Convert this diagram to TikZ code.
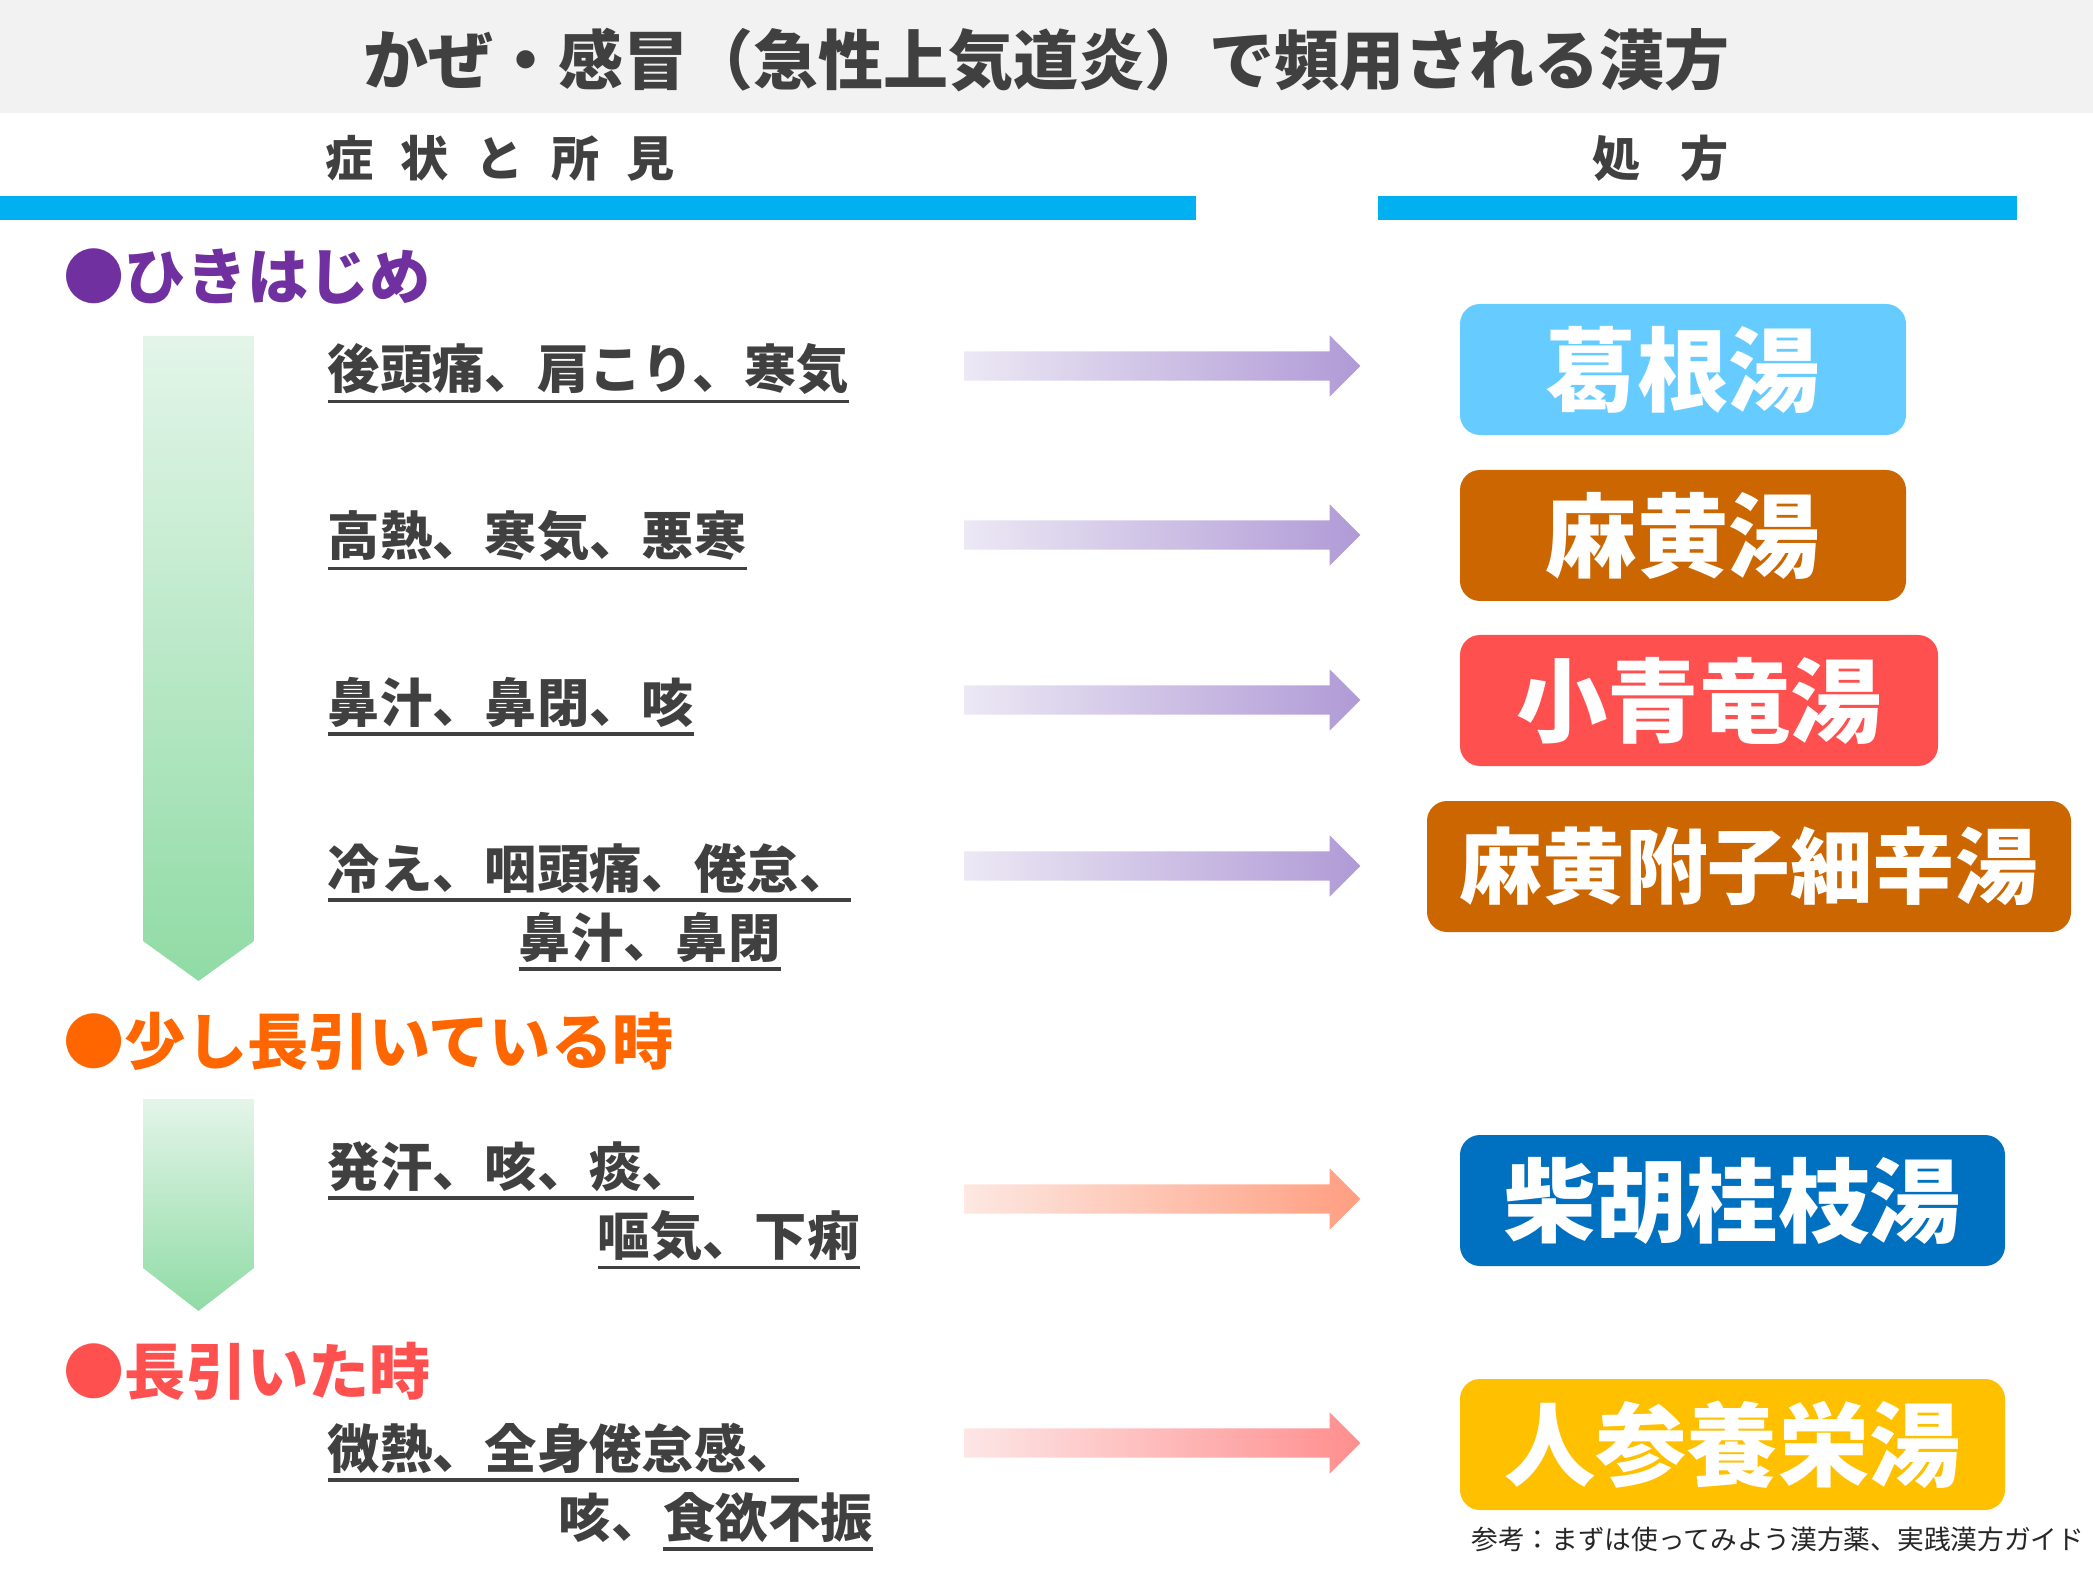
\documentclass[tikz,border=0pt]{standalone}
\usepackage{fontspec}
\setmainfont{Noto Sans CJK JP}
\usetikzlibrary{shapes.arrows}

\definecolor{txtgray}{HTML}{404040}
\definecolor{bandgray}{HTML}{F2F2F2}
\definecolor{barblue}{HTML}{00B0F0}
\definecolor{stpurple}{HTML}{7030A0}
\definecolor{storange}{HTML}{FF6600}
\definecolor{stred}{HTML}{FF5050}
\definecolor{rxsky}{HTML}{66CCFF}
\definecolor{rxbrown}{HTML}{CC6600}
\definecolor{rxred}{HTML}{FF5050}
\definecolor{rxblue}{HTML}{0070C0}
\definecolor{rxgold}{HTML}{FFC000}

% underline that sits just under the glyphs
\newcommand\ulsym[1]{\vtop{\hbox{#1}\kern1.4pt\hrule height 1pt}}

\tikzset{
  title/.style={font=\bfseries\fontsize{18.5}{22}\selectfont, text=txtgray},
  colhead/.style={font=\bfseries\fontsize{13.7}{16}\selectfont, text=txtgray},
  stage/.style={anchor=base west, inner sep=0pt, font=\bfseries\fontsize{17.4}{21}\selectfont},
  symptom/.style={anchor=base west, inner sep=0pt, text=txtgray, font=\bfseries\fontsize{14.9}{18}\selectfont},
  rx/.style={rounded corners=0.2cm, inner sep=0pt, minimum height=1.31cm, text=white, font=\bfseries\fontsize{26}{30}\selectfont},
  fatarrow/.style={single arrow, inner xsep=0pt, inner ysep=0.14cm, minimum height=3.96cm, single arrow head extend=0.16cm},
  parrow/.style={fatarrow, left color=ECE8F4, right color=B09AD6},
  oarrow/.style={fatarrow, left color=FDE8E2, right color=FF9E80},
  rarrow/.style={fatarrow, left color=FDE6E6, right color=FF8E8E},
  greenarrow/.style={top color=E3F5E9, bottom color=90DBA5},
}
\definecolor{ECE8F4}{HTML}{ECE8F4}
\definecolor{B09AD6}{HTML}{B09AD6}
\definecolor{FDE8E2}{HTML}{FDE8E2}
\definecolor{FF9E80}{HTML}{FF9E80}
\definecolor{FDE6E6}{HTML}{FDE6E6}
\definecolor{FF8E8E}{HTML}{FF8E8E}
\definecolor{E3F5E9}{HTML}{E3F5E9}
\definecolor{90DBA5}{HTML}{90DBA5}

\begin{document}
\begin{tikzpicture}
\useasboundingbox (0,0) rectangle (20.93,-15.71);

% header
\fill[bandgray] (0,0) rectangle (20.93,-1.13);
\node[title] (title) at (10.465,-0.60) {かぜ・感冒（急性上気道炎）で頻用される漢方};
\node[colhead] (symhead) at (5.00,-1.58) {症\hspace{0.27cm}状\hspace{0.27cm}と\hspace{0.27cm}所\hspace{0.27cm}見};
\node[colhead] (rxhead) at (16.61,-1.58) {処\hspace{0.4cm}方};
\fill[barblue] (0,-1.96) rectangle (11.96,-2.20);
\fill[barblue] (13.78,-1.96) rectangle (20.17,-2.20);

% stages
\node[stage, text=stpurple] (early) at (0.63,-3.00) {●ひきはじめ};
\node[stage, text=storange] (mid) at (0.63,-10.64) {●少し長引いている時};
\node[stage, text=stred] (late) at (0.63,-13.94) {●長引いた時};
\shade[greenarrow] (1.43,-3.36) -- (2.54,-3.36) -- (2.54,-9.41) -- (1.985,-9.81) -- (1.43,-9.41) -- cycle;
\shade[greenarrow] (1.43,-10.99) -- (2.54,-10.99) -- (2.54,-12.68) -- (1.985,-13.11) -- (1.43,-12.68) -- cycle;

% symptoms
\node[symptom] (s1) at (3.27,-3.89) {\ulsym{後頭痛、肩こり、寒気}};
\node[symptom] (s2) at (3.27,-5.56) {\ulsym{高熱、寒気、悪寒}};
\node[symptom] (s3) at (3.27,-7.22) {\ulsym{鼻汁、鼻閉、咳}};
\node[symptom] (s4a) at (3.27,-8.88) {\ulsym{冷え、咽頭痛、倦怠、}};
\node[symptom] (s4b) at (5.18,-9.57) {\ulsym{鼻汁、鼻閉}};
\node[symptom] (s5a) at (3.27,-11.86) {\ulsym{発汗、咳、痰、}};
\node[symptom] (s5b) at (5.97,-12.55) {\ulsym{嘔気、下痢}};
\node[symptom] (s6a) at (3.27,-14.68) {\ulsym{微熱、全身倦怠感、}};
\node[symptom] (s6b) at (5.58,-15.37) {咳、\ulsym{食欲不振}};

% arrows
\node[parrow] (a1) at (11.55,-3.66) {};
\node[parrow] (a2) at (11.55,-5.35) {};
\node[parrow] (a3) at (11.55,-7.00) {};
\node[parrow] (a4) at (11.55,-8.66) {};
\node[oarrow] (a5) at (11.55,-11.99) {};
\node[rarrow] (a6) at (11.55,-14.43) {};

% prescriptions
\node[rx, fill=rxsky, minimum width=4.46cm] (kakkon) at (16.83,-3.695) {葛根湯};
\node[rx, fill=rxbrown, minimum width=4.46cm] (mao) at (16.83,-5.355) {麻黄湯};
\node[rx, fill=rxred, minimum width=4.78cm] (shoseiryu) at (16.99,-7.005) {小青竜湯};
\node[rx, fill=rxbrown, minimum width=6.44cm, font=\bfseries\fontsize{23.5}{28}\selectfont] (maobushi) at (17.49,-8.665) {麻黄附子細辛湯};
\node[rx, fill=rxblue, minimum width=5.45cm] (saiko) at (17.325,-12.005) {柴胡桂枝湯};
\node[rx, fill=rxgold, minimum width=5.45cm] (ninjin) at (17.325,-14.445) {人参養栄湯};

\node[anchor=east, inner sep=0pt, text=black!85, font=\fontsize{7.6}{9}\selectfont] (ref) at (20.85,-15.39) {参考：まずは使ってみよう漢方薬、実践漢方ガイド};
\end{tikzpicture}
\end{document}
